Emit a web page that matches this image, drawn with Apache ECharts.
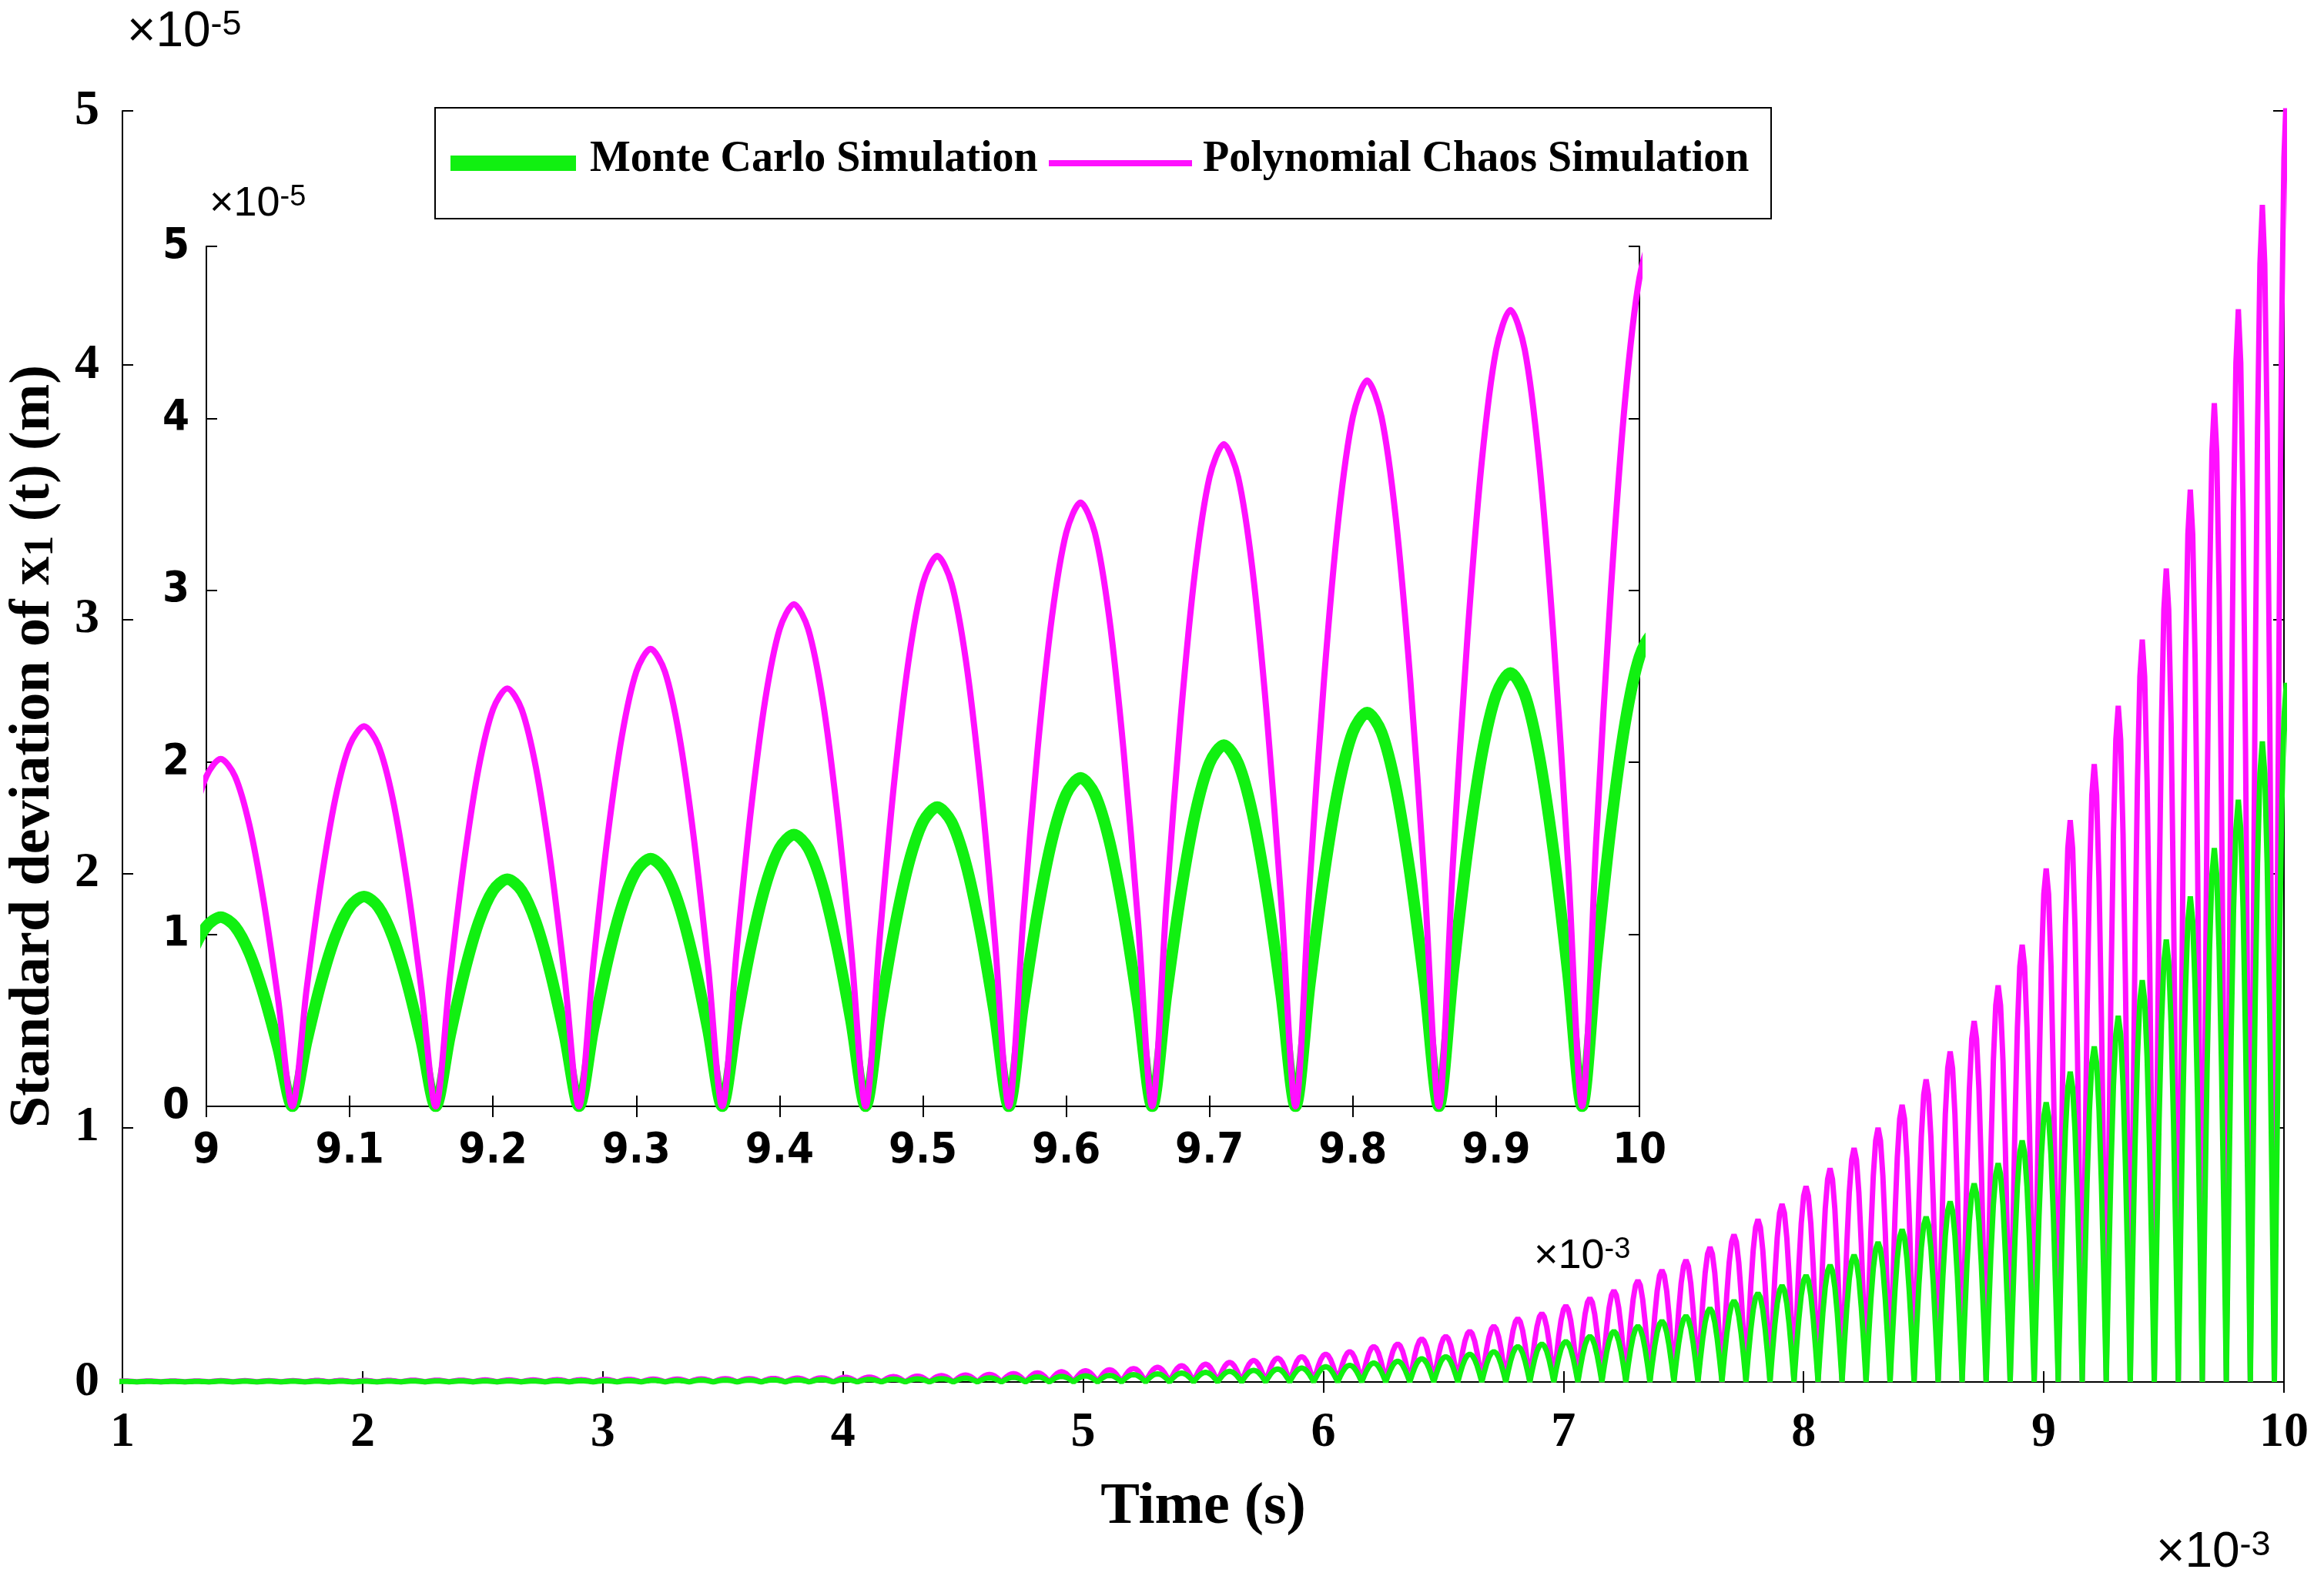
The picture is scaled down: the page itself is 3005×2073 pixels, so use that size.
<!DOCTYPE html>
<html><head><meta charset="utf-8">
<script src="https://cdn.jsdelivr.net/npm/echarts@6/dist/echarts.min.js"></script>
<style>html,body{margin:0;background:#fff}#c{width:3005px;height:2073px}</style>
</head><body><div id="c"></div>
<script>
// peak times (ms): 1.01, 1.11, ..., 10.01 ; values in units of 1e-5 m
const pcPeaks = [
0.004,0.004,0.004,0.004,0.005,0.005,0.005,0.005,0.006,0.006,
0.006,0.006,0.007,0.007,0.007,0.008,0.008,0.008,0.009,0.009,
0.010,0.010,0.011,0.011,0.012,0.013,0.013,0.014,0.015,0.016,
0.018,0.019,0.021,0.023,0.025,0.027,0.030,0.033,0.036,0.040,
0.044,0.048,0.053,0.058,0.064,0.070,0.077,0.085,0.094,0.10,
0.11,0.12,0.14,0.15,0.17,0.18,0.20,0.22,0.25,0.27,
0.30,0.33,0.36,0.40,0.44,0.48,0.53,0.58,0.64,0.70,
0.77,0.84,0.92,1.00,1.09,1.19,1.30,1.42,1.56,1.72,
2.02,2.21,2.43,2.66,2.92,3.20,3.51,3.85,4.22,4.63,
5.07];
const mcPeaks = [
0.002,0.002,0.002,0.002,0.003,0.003,0.003,0.003,0.003,0.003,
0.003,0.003,0.004,0.004,0.004,0.004,0.004,0.004,0.005,0.005,
0.005,0.005,0.006,0.006,0.007,0.007,0.007,0.008,0.008,0.009,
0.010,0.010,0.011,0.012,0.013,0.015,0.016,0.018,0.020,0.022,
0.024,0.026,0.029,0.032,0.035,0.038,0.042,0.046,0.051,0.055,
0.06,0.066,0.075,0.082,0.092,0.10,0.11,0.12,0.14,0.15,
0.16,0.18,0.20,0.22,0.24,0.26,0.29,0.32,0.35,0.38,
0.42,0.46,0.50,0.55,0.60,0.65,0.71,0.78,0.86,0.95,
1.10,1.22,1.32,1.44,1.58,1.74,1.91,2.10,2.29,2.52,
2.75];
const firstPeak = 1.01, period = 0.1;
const archShape = [0,0.31,0.59,0.81,0.95,1,0.95,0.81,0.59,0.31,0];
const legendNames = ['Monte Carlo Simulation','Polynomial Chaos Simulation'];

function build(peaks){
  const pts=[];
  peaks.forEach((p,k)=>{
    const c = firstPeak + period*k;
    archShape.forEach((s,i)=>{
      if(k>0 && i===0) return;
      pts.push([+(c - period/2 + period*i/(archShape.length-1)).toFixed(4), p*s]);
    });
  });
  return pts;
}
const mc = build(mcPeaks), pc = build(pcPeaks);
const GREEN='#11f011', MAG='#ff10ff';
const serif='Liberation Serif';
const narrow='Liberation Sans Narrow, DejaVu Sans Condensed';
const ch = echarts.init(document.getElementById('c'));
const axBase = (o)=>Object.assign({axisLine:{show:true,lineStyle:{color:'#000',width:2}},axisTick:{inside:true,length:14,lineStyle:{color:'#000',width:2}},splitLine:{show:false}},o);
const mult = (l,t,fs,z)=>({type:'text',left:l,top:t,z:z||20,style:{text:'{a|×10}{b|-'+(fs.e)+'}',rich:{a:{fontFamily:'Liberation Sans',fontSize:fs.s,fill:'#000'},b:{fontFamily:'Liberation Sans',fontSize:Math.round(fs.s*0.7),fill:'#000',verticalAlign:'top'}}}});
const legTxt = {fontFamily:serif,fontWeight:'bold',fontSize:56,fill:'#000'};
ch.setOption({
  animation:false,
  grid:[{left:159,right:39,top:144,bottom:278,outerBoundsMode:'none'},{left:268,right:876,top:320,bottom:636,outerBoundsMode:'none',backgroundColor:'#fff',show:true,borderWidth:0,z:5}],
  xAxis:[
    axBase({type:'value',gridIndex:0,min:1,max:10,interval:1,axisLabel:{fontFamily:serif,fontWeight:'bold',fontSize:64,color:'#000',margin:34},
      name:'Time (s)',nameLocation:'middle',nameGap:125,nameTextStyle:{fontFamily:serif,fontWeight:'bold',fontSize:76,color:'#000'}}),
    axBase({type:'value',gridIndex:0,min:1,max:10,interval:1,position:'top',axisLabel:{show:false}}),
    axBase({type:'value',gridIndex:1,min:9,max:10,interval:0.1,axisLabel:{fontFamily:narrow,fontWeight:'bold',fontSize:56,color:'#000',margin:30,formatter:v=>+v.toFixed(1)+''},z:6}),
    axBase({type:'value',gridIndex:1,min:9,max:10,interval:0.1,position:'top',axisLabel:{show:false},z:6})
  ],
  yAxis:[
    axBase({type:'value',gridIndex:0,min:0,max:5,interval:1,axisLabel:{fontFamily:serif,fontWeight:'bold',fontSize:64,color:'#000',margin:30},
      name:'{a|Standard deviation of x}{s|1}{a| (t) (m)}',nameLocation:'middle',nameGap:78,nameRotate:90,
      nameTextStyle:{rich:{a:{fontFamily:serif,fontWeight:'bold',fontSize:74,color:'#000'},s:{fontFamily:serif,fontWeight:'bold',fontSize:54,color:'#000',verticalAlign:'bottom'}}}}),
    axBase({type:'value',gridIndex:0,min:0,max:5,interval:1,position:'right',axisLabel:{show:false}}),
    axBase({type:'value',gridIndex:1,min:0,max:5,interval:1,axisLabel:{fontFamily:narrow,fontWeight:'bold',fontSize:56,color:'#000',margin:22},z:6}),
    axBase({type:'value',gridIndex:1,min:0,max:5,interval:1,position:'right',axisLabel:{show:false},z:6})
  ],
  series:[
    {name:legendNames[0],type:'line',xAxisIndex:0,yAxisIndex:0,data:mc,symbol:'none',lineStyle:{color:GREEN,width:7},z:3},
    {name:legendNames[1],type:'line',xAxisIndex:0,yAxisIndex:0,data:pc,symbol:'none',lineStyle:{color:MAG,width:7},z:2},
    {name:legendNames[0],type:'line',xAxisIndex:2,yAxisIndex:2,data:mc,symbol:'none',smooth:0.3,lineStyle:{color:GREEN,width:15},z:7},
    {name:legendNames[1],type:'line',xAxisIndex:2,yAxisIndex:2,data:pc,symbol:'none',smooth:0.3,lineStyle:{color:MAG,width:8},z:8}
  ],
  graphic:[
    mult(165,10,{s:64,e:5}),
    mult(2800,1985,{s:64,e:3}),
    mult(272,238,{s:54,e:5}),
    mult(1992,1605,{s:54,e:3}),
    {type:'rect',z:30,shape:{x:565,y:140,width:1735,height:144},style:{fill:'#fff',stroke:'#000',lineWidth:2}},
    {type:'line',z:31,shape:{x1:585,y1:212,x2:748,y2:212},style:{stroke:GREEN,lineWidth:20}},
    {type:'text',z:31,left:766,top:180,style:Object.assign({text:legendNames[0]},legTxt)},
    {type:'line',z:31,shape:{x1:1362,y1:212,x2:1548,y2:212},style:{stroke:MAG,lineWidth:8}},
    {type:'text',z:31,left:1562,top:180,style:Object.assign({text:legendNames[1]},legTxt)}
  ]
});
</script></body></html>
